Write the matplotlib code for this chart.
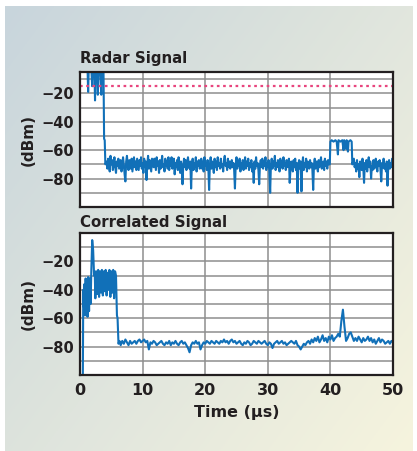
import numpy as np
import matplotlib
matplotlib.use("Agg")
import matplotlib.pyplot as plt

# ---- data ----
# Radar signal: burst at the start (clipped above the axes), noise floor,
# second echo around 40-43.5 us
radar_burst_t = [1.2, 1.3, 1.4, 1.6, 1.8, 1.95, 2.05, 2.3, 2.4, 2.5, 2.7, 2.85,
                 2.95, 3.2, 3.4, 3.5, 3.75, 3.85, 3.95, 4.05]
radar_burst_v = [-2, -19, -2, -2, -2, -15, -2, -2, -25, -2, -2, -21,
                 -2, -2, -21, -2, -2, -52, -53, -70]

# noise floor sampled every 0.125 us from 4.25 to 39.75 us
radar_noise_start = 4.25
radar_noise_v = [
    -68, -73, -66, -71, -75, -64, -70, -67, -74, -69, -65, -72, -76, -68, -71, -66, -73, -70, -67, -75,
    -72, -65, -70, -77, -82, -68, -64, -71, -74, -67, -69, -73, -66, -75, -70, -65, -72, -68, -74, -66,
    -70, -74, -67, -71, -65, -73, -69, -76, -66, -72, -68, -81, -70, -64, -73, -67, -71, -75, -66, -69,
    -72, -66, -70, -74, -65, -71, -68, -76, -67, -73, -69, -64, -72, -70, -75, -66, -71, -68, -73, -65,
    -74, -68, -71, -65, -73, -70, -66, -77, -69, -72, -67, -74, -65, -71, -76, -68, -73, -84, -70, -66,
    -72, -67, -74, -69, -65, -71, -73, -68, -87, -70, -66, -74, -69, -72, -65, -75, -68, -71, -67, -73,
    -70, -66, -73, -68, -75, -65, -71, -69, -74, -67, -72, -88, -70, -65, -73, -68, -71, -76, -66, -72,
    -68, -74, -65, -71, -69, -73, -66, -72, -70, -75, -67, -64, -71, -69, -74, -66, -72, -68, -73, -70,
    -67, -72, -69, -74, -87, -70, -65, -73, -68, -71, -66, -75, -69, -72, -67, -74, -70, -65, -73, -68,
    -71, -66, -74, -69, -72, -67, -75, -70, -83, -68, -73, -65, -71, -69, -74, -84, -70, -67, -72, -66,
    -73, -68, -71, -65, -74, -69, -72, -67, -75, -90, -70, -66, -73, -68, -71, -64, -74, -69, -72, -67,
    -70, -75, -66, -72, -68, -73, -65, -71, -69, -74, -67, -72, -70, -66, -83, -73, -68, -71, -75, -67,
    -72, -66, -74, -69, -90, -71, -67, -73, -68, -89, -70, -65, -74, -69, -72, -66, -75, -68, -71, -73,
    -67, -72, -69, -74, -88, -70, -66, -73, -68, -71, -75, -67, -72, -69, -65, -73, -70, -68, -74, -66,
    -71, -68, -73, -67, -70,
]

radar_echo_t = [39.9, 40.0, 40.2, 40.5, 40.8, 41.0, 41.2, 41.3, 41.6, 41.9,
                42.1, 42.2, 42.5, 42.6, 42.8, 42.9, 43.2, 43.4, 43.5]
radar_echo_v = [-70, -54, -53, -54, -53, -54, -63, -53, -54, -53,
                -60, -53, -59, -53, -61, -54, -53, -54, -70]

# noise after the echo, every 0.125 us from 43.75 to 50 us
radar_tail_start = 43.75
radar_tail_v = [
    -66, -72, -69, -75, -67, -73, -70, -79, -68, -71, -74, -66, -72, -83, -69, -73, -67, -75, -70, -65,
    -72, -68, -80, -71, -74, -67, -73, -69, -66, -72, -75, -68, -71, -67, -74, -82, -69, -72, -66, -73,
    -70, -75, -68, -85, -71, -67, -73, -69, -72, -66, -70,
]

radar_threshold = -15

# Correlated signal
corr_head_t = [0.45, 0.52, 0.6, 0.7, 0.8, 0.9, 1.0, 1.1, 1.2, 1.3, 1.45, 1.55,
               1.7, 1.8, 1.95, 2.1, 2.25, 2.35, 2.45, 2.6, 2.75, 2.9, 3.05,
               3.2, 3.35, 3.5, 3.65, 3.8, 3.95, 4.1, 4.25, 4.4, 4.55, 4.7,
               4.85, 5.0, 5.15, 5.3, 5.45, 5.6, 5.75, 5.9, 6.0, 6.15, 6.3]
corr_head_v = [-105, -40, -52, -36, -58, -32, -55, -34, -59, -31, -55, -32,
               -50, -28, -5, -12, -30, -27, -46, -27, -43, -26, -45,
               -27, -42, -26, -44, -27, -41, -26, -44, -28, -40, -26,
               -45, -27, -42, -26, -46, -27, -30, -58, -60, -78, -76]

# floor every 0.25 us from 6.5 to 50 us
corr_floor_start = 6.5
corr_floor_v = [
    -79, -76, -78, -75, -77, -79, -76, -78, -77, -76,
    -78, -76, -75, -77, -76, -75, -77, -76, -82, -77,
    -78, -76, -77, -79, -78, -77, -76, -78, -79, -77,
    -78, -76, -79, -77, -78, -76, -78, -79, -77, -76,
    -78, -77, -79, -81, -84, -79, -77, -78, -76, -78,
    -77, -82, -79, -77, -78, -76, -77, -78, -76, -77,
    -78, -76, -77, -78, -76, -77, -75, -77, -76, -78,
    -76, -75, -77, -76, -78, -77, -76, -78, -79, -77,
    -78, -76, -77, -79, -78, -76, -77, -78, -76, -77,
    -78, -77, -76, -78, -79, -77, -78, -81, -78, -77,
    -76, -78, -77, -76, -78, -77, -79, -78, -77, -76,
    -77, -78, -76, -79, -80, -82, -80, -78, -79, -77,
    -76, -78, -75, -77, -74, -76, -73, -77, -75, -72,
    -76, -74, -77, -73, -75, -72, -76, -74, -73, -71,
    -73, -62, -54, -66, -76, -74, -71, -70, -73, -76,
    -74, -76, -73, -75, -77, -74, -76, -75, -73, -76,
    -74, -77, -75, -78, -76, -74, -77, -75, -76, -78,
    -77, -76, -78, -76, -77,
]

x_ticks = [0, 10, 20, 30, 40, 50]
y_labels = [-80, -60, -40, -20]

radar_t = np.concatenate([radar_burst_t,
                          radar_noise_start + 0.125 * np.arange(len(radar_noise_v)),
                          radar_echo_t,
                          radar_tail_start + 0.125 * np.arange(len(radar_tail_v))])
radar_v = np.concatenate([radar_burst_v, radar_noise_v, radar_echo_v, radar_tail_v])

corr_t = np.concatenate([corr_head_t,
                         corr_floor_start + 0.25 * np.arange(len(corr_floor_v))])
corr_v = np.concatenate([corr_head_v, corr_floor_v])

# ---- figure ----
W, H = 417, 451
fig = plt.figure(figsize=(W / 100, H / 100), dpi=100)
fig.patch.set_facecolor("white")

# gradient panel behind the charts
bg = fig.add_axes([5 / W, 0, 407 / W, 445 / H], zorder=-10)
gx, gy = np.meshgrid(np.linspace(0, 1, 200), np.linspace(0, 1, 200))
g = np.clip(0.55 * gx + 0.45 * gy, 0, 1)[..., None]
c0 = np.array([200, 213, 220]) / 255
c1 = np.array([246, 244, 222]) / 255
bg.imshow(c0 + (c1 - c0) * g, aspect="auto", extent=[0, 1, 1, 0])
bg.set_axis_off()

line_color = "#1170b8"
ink = "#231f20"


def style(ax, yhi, show_x):
    ax.set_facecolor("white")
    ax.set_xlim(0, 50)
    ax.set_ylim(-100, yhi)
    ax.set_xticks(x_ticks)
    levels = np.arange(-90, yhi, 10)
    ax.set_yticks(levels)
    ax.set_yticklabels([f"\u2212{-int(v)}" if v in y_labels else "" for v in levels])
    if show_x:
        ax.set_xticklabels([str(v) for v in x_ticks])
    else:
        ax.set_xticklabels([])
    ax.tick_params(length=0, pad=4)
    ax.tick_params(axis="x", pad=6)
    for lab in ax.get_yticklabels():
        lab.set_fontsize(10.5)
        lab.set_fontweight("bold")
        lab.set_color(ink)
    for lab in ax.get_xticklabels():
        lab.set_fontsize(11.5)
        lab.set_fontweight("bold")
        lab.set_color(ink)
    ax.grid(True, color="#8e8e8e", linewidth=1.1)
    ax.set_axisbelow(True)
    for s in ax.spines.values():
        s.set_linewidth(1.6)
        s.set_color(ink)
    ax.set_ylabel("(dBm)", fontsize=11, fontweight="bold", color=ink, labelpad=4)


ax1 = fig.add_axes([80 / W, 1 - 207 / H, 313 / W, 135 / H])
ax1.plot(radar_t, radar_v, color=line_color, linewidth=1.5)
ax1.axhline(radar_threshold, color="#e8457e", linestyle=(0, (1.2, 1.6)), linewidth=1.6)
style(ax1, -5, False)

ax2 = fig.add_axes([80 / W, 1 - 375 / H, 313 / W, 142 / H])
ax2.plot(corr_t, corr_v, color=line_color, linewidth=1.5)
style(ax2, 0, True)
ax2.set_xlabel("Time (\u00b5s)", fontsize=11.5, fontweight="bold", color=ink, labelpad=5)

fig.text(80 / W, 1 - 63 / H, "Radar Signal", fontsize=10.8, fontweight="bold",
         color=ink, va="baseline", ha="left")
fig.text(80 / W, 1 - 227 / H, "Correlated Signal", fontsize=10.8, fontweight="bold",
         color=ink, va="baseline", ha="left")

fig.savefig("out.png", dpi=100)
